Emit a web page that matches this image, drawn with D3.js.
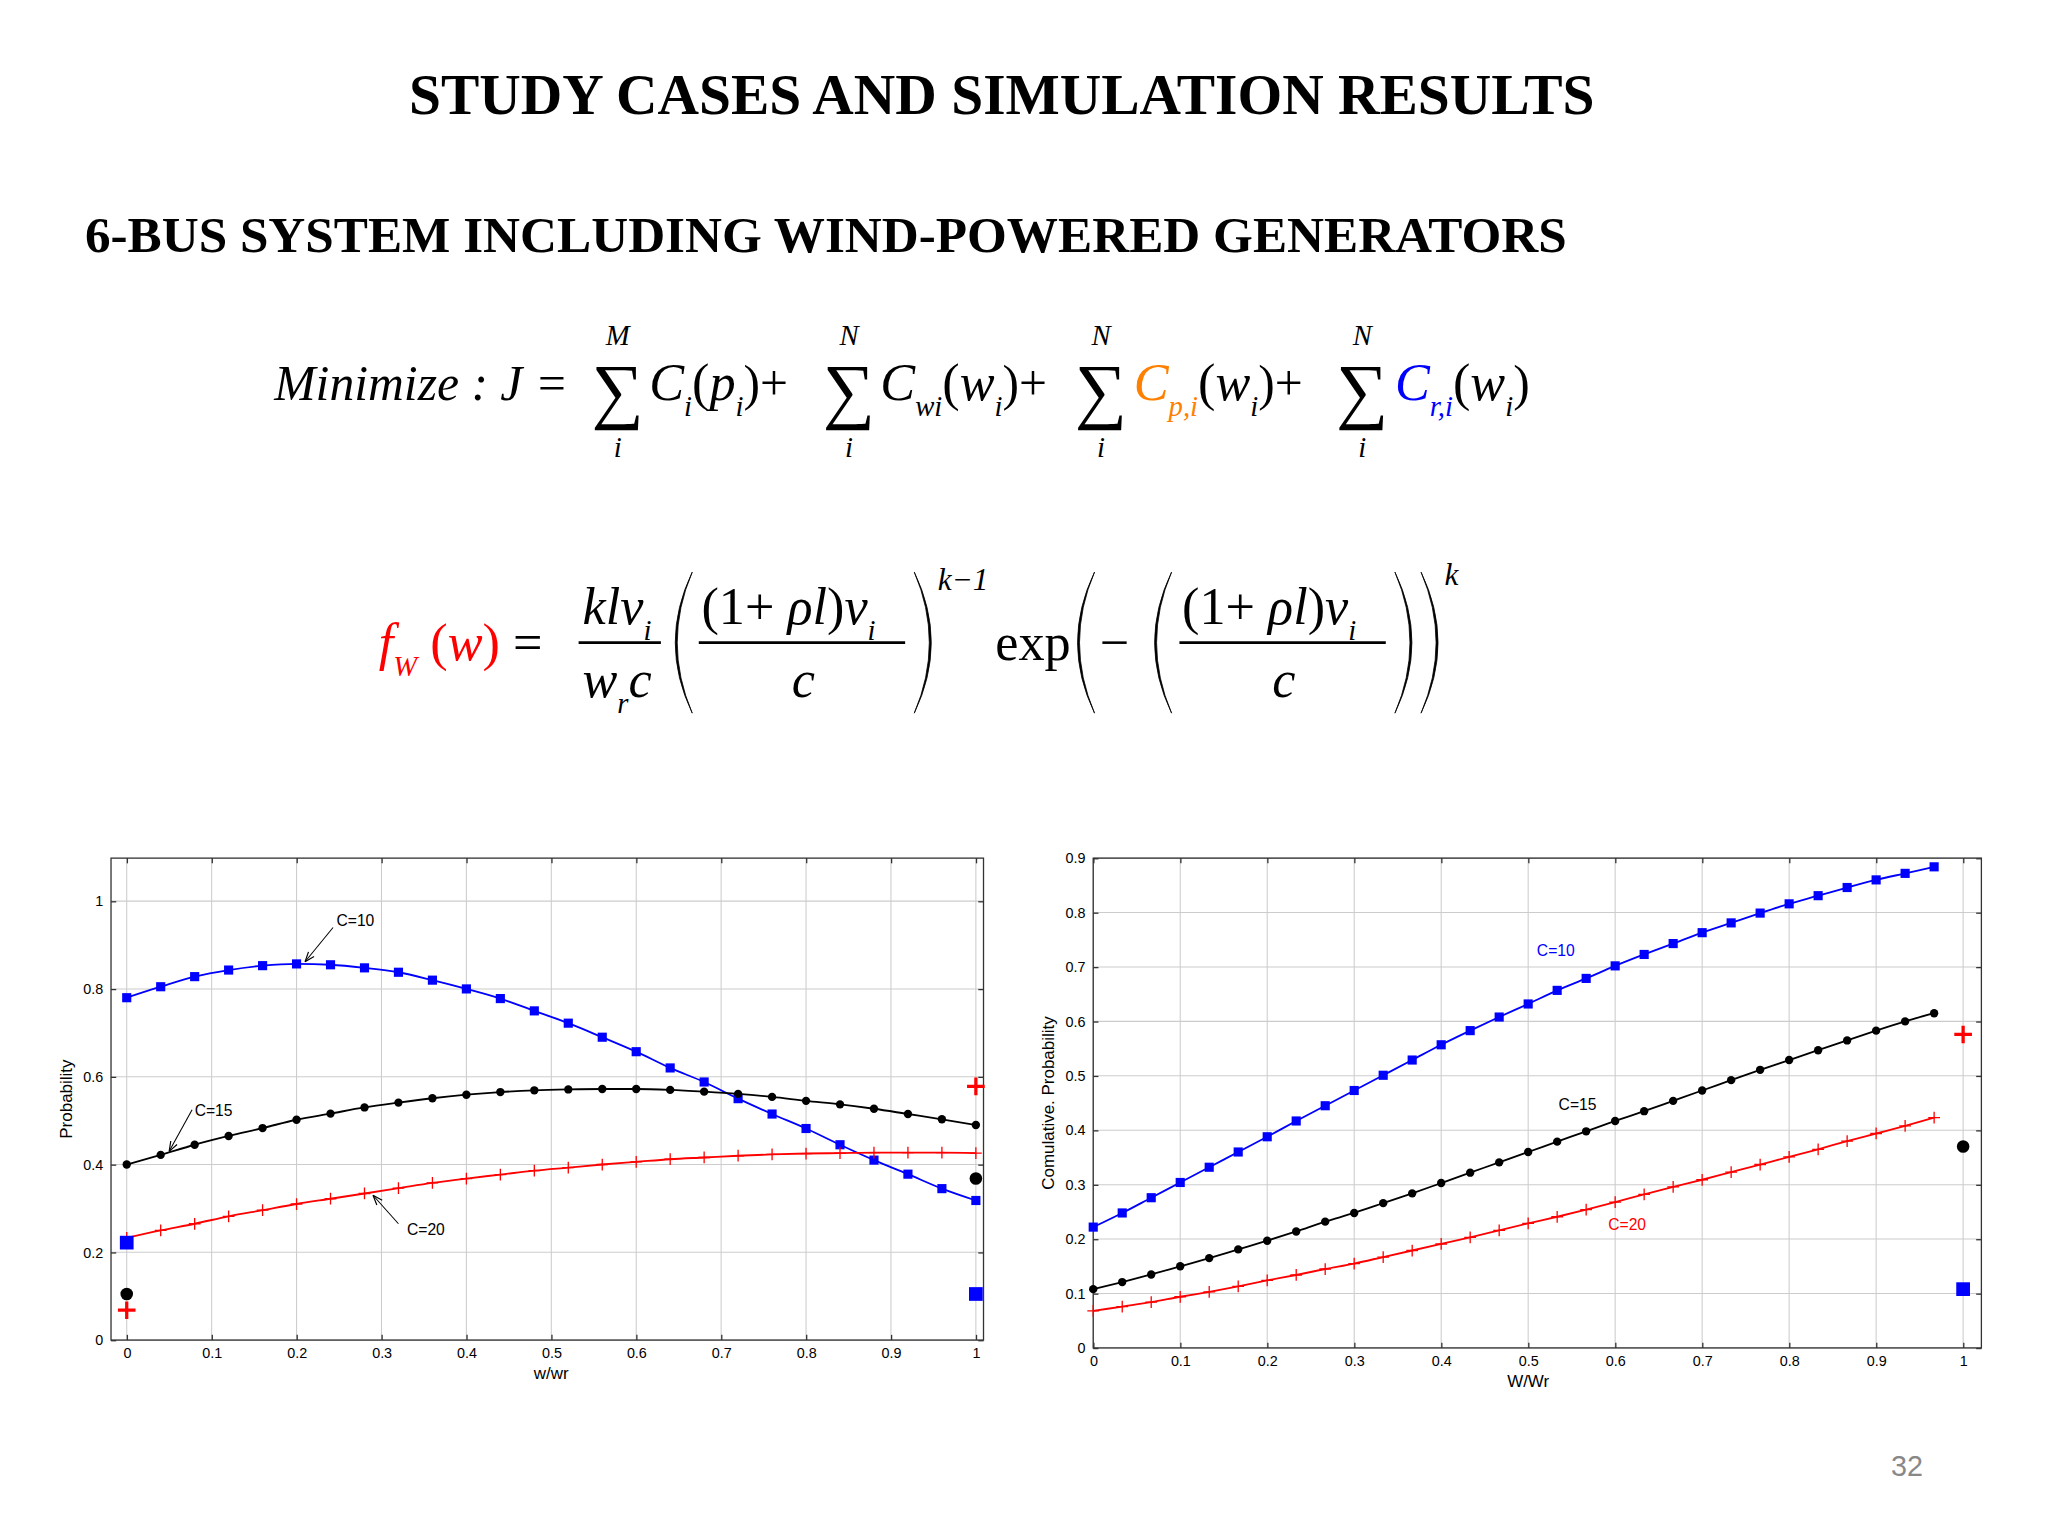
<!DOCTYPE html>
<html><head><meta charset="utf-8">
<script src="https://cdn.jsdelivr.net/npm/d3@7"></script>
<style>body{margin:0;background:#fff}svg{display:block}</style>
</head><body>
<script>
// ---------- data ----------
const pdfX = d3.range(26).map(i => i * 0.04);
const pdfC10 = [0.78,0.805,0.828,0.843,0.853,0.857,0.855,0.848,0.838,0.82,0.80,0.778,0.75,0.722,0.69,0.657,0.62,0.588,0.55,0.515,0.482,0.445,0.41,0.378,0.345,0.318];
const pdfC15 = [0.40,0.422,0.445,0.465,0.483,0.502,0.516,0.53,0.541,0.551,0.559,0.565,0.569,0.571,0.572,0.572,0.570,0.566,0.561,0.554,0.545,0.537,0.527,0.515,0.503,0.49];
const pdfC20 = [0.233,0.25,0.265,0.282,0.296,0.31,0.322,0.334,0.346,0.358,0.368,0.377,0.386,0.393,0.400,0.406,0.412,0.416,0.420,0.423,0.425,0.426,0.427,0.427,0.427,0.426];
const pdfIsoX = [0, 0, 0, 1, 1, 1];
const pdfIsoY = [0.222, 0.105, 0.068, 0.578, 0.368, 0.105];
const pdfIsoS = ["C10", "C15", "C20", "C20", "C15", "C10"];
const cdfX = d3.range(30).map(i => i / 30);
const cdfC10 = [0.222,0.248,0.276,0.304,0.332,0.36,0.388,0.417,0.445,0.473,0.501,0.529,0.557,0.583,0.608,0.632,0.657,0.679,0.702,0.723,0.743,0.763,0.781,0.799,0.816,0.831,0.846,0.860,0.872,0.884];
const cdfC15 = [0.108,0.121,0.135,0.150,0.165,0.181,0.197,0.214,0.232,0.248,0.266,0.284,0.303,0.322,0.341,0.360,0.379,0.398,0.417,0.435,0.454,0.473,0.492,0.511,0.529,0.547,0.565,0.583,0.600,0.615];
const cdfC20 = [0.068,0.076,0.084,0.094,0.103,0.113,0.124,0.134,0.145,0.155,0.167,0.179,0.191,0.203,0.216,0.229,0.241,0.254,0.268,0.282,0.296,0.309,0.323,0.337,0.351,0.365,0.380,0.394,0.408,0.423];
const cdfIsoX = [1, 1, 1];
const cdfIsoY = [0.576, 0.37, 0.108];
const cdfIsoS = ["C20", "C15", "C10"];
const pdfXTicks = d3.range(11).map(i => i / 10);
const pdfYTicks = [0, 0.2, 0.4, 0.6, 0.8, 1];
const cdfYTicks = d3.range(10).map(i => i / 10);

const style = {C10: {c: "#0000ff", m: "sq"}, C15: {c: "#000", m: "dot"}, C20: {c: "#ff0000", m: "plus"}};

const svg = d3.select("body").append("svg").attr("width", 2048).attr("height", 1536)
  .attr("viewBox", "0 0 1568 1176");

// ---------- headings ----------
svg.append("text").attr("x", 767).attr("y", 87).attr("text-anchor", "middle")
  .attr("font-family", "Liberation Serif").attr("font-weight", "bold").attr("font-size", 44)
  .text("STUDY CASES AND SIMULATION RESULTS");
svg.append("text").attr("x", 65).attr("y", 193)
  .attr("font-family", "Liberation Serif").attr("font-weight", "bold").attr("font-size", 39.2)
  .text("6-BUS SYSTEM INCLUDING WIND-POWERED GENERATORS");
svg.append("text").attr("x", 1460).attr("y", 1130).attr("text-anchor", "middle")
  .attr("font-family", "Liberation Sans").attr("font-size", 22).attr("fill", "#888").text("32");

// ---------- equations ----------
const eq = svg.append("g").attr("font-family", "Liberation Serif").attr("font-style", "italic");
function run(x, y, parts) {
  const tx = eq.append("text").attr("x", x).attr("y", y);
  parts.forEach(([s, size, col, sub, up]) => {
    tx.append("tspan").attr("font-size", size).attr("fill", col || "#000")
      .attr("font-style", up ? "normal" : "italic")
      .attr("baseline-shift", sub ? (sub > 0 ? "super" : "sub") : null).text(s);
  });
  return tx;
}
function t(x, y, s, size, anchor, up) {
  return eq.append("text").attr("x", x).attr("y", y).attr("font-size", size)
    .attr("text-anchor", anchor || "start").attr("font-style", up ? "normal" : "italic").text(s);
}
t(210, 306, "Minimize : J =", 38);
[[473, "M"], [650, "N"], [843, "N"], [1043, "N"]].forEach(([x, top]) => {
  t(x, 318, "∑", 56, "middle", true);
  t(x, 264, top, 22, "middle");
  t(x, 350, "i", 22, "middle");
});
const O = "#ff8000", B = "#0000ff";
run(497, 306, [["C", 40], ["i", 22, null, -1], ["(", 40, null, 0, 1], ["p", 40], ["i", 22, null, -1], [")+", 38, null, 0, 1]]);
run(674, 306, [["C", 40], ["wi", 22, null, -1], ["(", 40, null, 0, 1], ["w", 40], ["i", 22, null, -1], [")+", 38, null, 0, 1]]);
run(868, 306, [["C", 40, O], ["p,i", 22, O, -1], ["(", 40, null, 0, 1], ["w", 40], ["i", 22, null, -1], [")+", 38, null, 0, 1]]);
run(1068, 306, [["C", 40, B], ["r,i", 22, B, -1], ["(", 40, null, 0, 1], ["w", 40], ["i", 22, null, -1], [")", 38, null, 0, 1]]);

const R = "#ff0000";
run(290, 505, [["f", 40, R], ["W", 22, R, -1], [" (", 40, R, 0, 1], ["w", 40, R], [")", 40, R, 0, 1], [" =", 40, null, 0, 1]]);
run(446, 478, [["klv", 40], ["i", 22, null, -1]]);
run(446, 534, [["w", 40], ["r", 22, null, -1], ["c", 40]]);
function hline(x1, x2) { eq.append("line").attr("x1", x1).attr("x2", x2).attr("y1", 492).attr("y2", 492).attr("stroke", "#000").attr("stroke-width", 2); }
hline(443, 506);
function paren(x, dir) {
  const top = 438, bot = 546, bulge = 13 * dir;
  eq.append("path").attr("d", `M${x},${top} Q${x - bulge * 2},${(top + bot) / 2} ${x},${bot} Q${x - bulge * 2 + 3 * dir},${(top + bot) / 2} ${x},${top}Z`)
    .attr("fill", "#000").attr("stroke", "#000").attr("stroke-width", 0.6);
}
function inner(cx) {
  run(cx - 78, 478, [["(1+ ", 40, null, 0, 1], ["ρl", 40], [")", 40, null, 0, 1], ["v", 40], ["i", 22, null, -1]]);
  hline(cx - 80, cx + 78);
  t(cx, 534, "c", 40, "middle");
}
paren(530, 1); inner(615); paren(700, -1);
t(718, 452, "k−1", 24);
t(762, 505, "exp", 40, null, true);
paren(838, 1);
t(842, 505, "−", 40, null, true);
paren(897, 1); inner(983); paren(1068, -1); paren(1088, -1);
t(1106, 448, "k", 24);

// ---------- chart helper ----------
function marker(g, x, y, kind, col, big) {
  const k = big ? 1.5 : 1;
  if (kind === "sq") g.append("rect").attr("x", x - 3.5 * k).attr("y", y - 3.5 * k).attr("width", 7 * k).attr("height", 7 * k).attr("fill", col);
  else if (kind === "dot") g.append("circle").attr("cx", x).attr("cy", y).attr("r", 3.2 * k).attr("fill", col);
  else {
    const r = 4.5 * k;
    g.append("path").attr("d", `M${x - r},${y}H${x + r}M${x},${y - r}V${y + r}`).attr("stroke", col).attr("stroke-width", big ? 2.5 : 1);
  }
}
function chart(o) {
  const g = svg.append("g").attr("font-family", "Liberation Sans");
  const x = d3.scaleLinear().domain(o.xd).range([o.l, o.r]);
  const y = d3.scaleLinear().domain(o.yd).range([o.b, o.t]);
  g.append("g").selectAll("line").data(pdfXTicks).join("line")
    .attr("x1", d => x(d)).attr("x2", d => x(d)).attr("y1", o.t).attr("y2", o.b).attr("stroke", "#ccc").attr("stroke-width", 0.8);
  g.append("g").selectAll("line").data(o.yt).join("line")
    .attr("x1", o.l).attr("x2", o.r).attr("y1", d => y(d)).attr("y2", d => y(d)).attr("stroke", "#ccc").attr("stroke-width", 0.8);
  g.append("rect").attr("x", o.l).attr("y", o.t).attr("width", o.r - o.l).attr("height", o.b - o.t)
    .attr("fill", "none").attr("stroke", "#333").attr("stroke-width", 1);
  const ax = g.append("g").attr("transform", `translate(0,${o.b})`)
    .call(d3.axisBottom(x).tickValues(pdfXTicks).tickFormat(d3.format("~g")).tickSize(-4).tickPadding(6));
  const ay = g.append("g").attr("transform", `translate(${o.l},0)`)
    .call(d3.axisLeft(y).tickValues(o.yt).tickFormat(d3.format("~g")).tickSize(-4).tickPadding(6));
  [ax, ay].forEach(a => { a.select(".domain").remove(); a.selectAll("text").attr("font-size", 11).attr("fill", "#000"); a.selectAll("line").attr("stroke", "#333"); });
  g.append("g").attr("transform", `translate(0,${o.t})`).call(d3.axisTop(x).tickValues(pdfXTicks).tickFormat("").tickSize(-4))
    .call(a => { a.select(".domain").remove(); a.selectAll("line").attr("stroke", "#333"); });
  g.append("g").attr("transform", `translate(${o.r},0)`).call(d3.axisRight(y).tickValues(o.yt).tickFormat("").tickSize(-4))
    .call(a => { a.select(".domain").remove(); a.selectAll("line").attr("stroke", "#333"); });
  g.append("text").attr("x", (x(0) + x(1)) / 2).attr("y", o.b + 30).attr("text-anchor", "middle").attr("font-size", 13).text(o.xl);
  g.append("text").attr("transform", `translate(${o.l - 30},${(o.t + o.b) / 2}) rotate(-90)`).attr("text-anchor", "middle").attr("font-size", 13).text(o.yl);
  const line = d3.line().curve(d3.curveMonotoneX);
  o.series.forEach(([key, ys]) => {
    const s = style[key];
    g.append("path").attr("d", line(ys.map((v, i) => [x(o.xs[i]), y(v)]))).attr("fill", "none").attr("stroke", s.c).attr("stroke-width", 1.4);
    ys.forEach((v, i) => marker(g, x(o.xs[i]), y(v), s.m, s.c, false));
  });
  o.iso[0].forEach((xv, i) => { const s = style[o.iso[2][i]]; marker(g, x(xv), y(o.iso[1][i]), s.m, s.c, true); });
  o.labels.forEach(lb => {
    g.append("text").attr("x", x(lb.x)).attr("y", y(lb.y)).attr("font-size", 12).attr("fill", lb.c).text(lb.s);
    if (lb.a) {
      const [x1, y1, x2, y2] = [x(lb.a[0]), y(lb.a[1]), x(lb.a[2]), y(lb.a[3])];
      g.append("line").attr("x1", x1).attr("y1", y1).attr("x2", x2).attr("y2", y2).attr("stroke", "#000").attr("stroke-width", 0.8);
      const ang = Math.atan2(y2 - y1, x2 - x1), L = 8;
      g.append("path").attr("d", `M${x2},${y2}L${x2 - L * Math.cos(ang - 0.35)},${y2 - L * Math.sin(ang - 0.35)}M${x2},${y2}L${x2 - L * Math.cos(ang + 0.35)},${y2 - L * Math.sin(ang + 0.35)}`)
        .attr("stroke", "#000").attr("stroke-width", 0.9).attr("fill", "none");
    }
  });
}

chart({l: 85, r: 753, t: 657, b: 1026, xd: [-0.0185, 1.009], yd: [0, 1.098], yt: pdfYTicks,
  xs: pdfX, xl: "w/wr", yl: "Probability",
  series: [["C10", pdfC10], ["C15", pdfC15], ["C20", pdfC20]],
  iso: [pdfIsoX, pdfIsoY, pdfIsoS],
  labels: [
    {s: "C=10", x: 0.247, y: 0.944, c: "#000", a: [0.243, 0.94, 0.21, 0.862]},
    {s: "C=15", x: 0.08, y: 0.51, c: "#000", a: [0.077, 0.525, 0.05, 0.43]},
    {s: "C=20", x: 0.33, y: 0.24, c: "#000", a: [0.32, 0.265, 0.29, 0.33]}
  ]});
chart({l: 837, r: 1517, t: 657, b: 1032, xd: [0, 1.021], yd: [0, 0.9], yt: cdfYTicks,
  xs: cdfX, xl: "W/Wr", yl: "Comulative. Probability",
  series: [["C10", cdfC10], ["C15", cdfC15], ["C20", cdfC20]],
  iso: [cdfIsoX, cdfIsoY, cdfIsoS],
  labels: [
    {s: "C=10", x: 0.51, y: 0.72, c: "#0000ff"},
    {s: "C=15", x: 0.535, y: 0.438, c: "#000"},
    {s: "C=20", x: 0.592, y: 0.217, c: "#ff0000"}
  ]});
</script>
</body></html>
